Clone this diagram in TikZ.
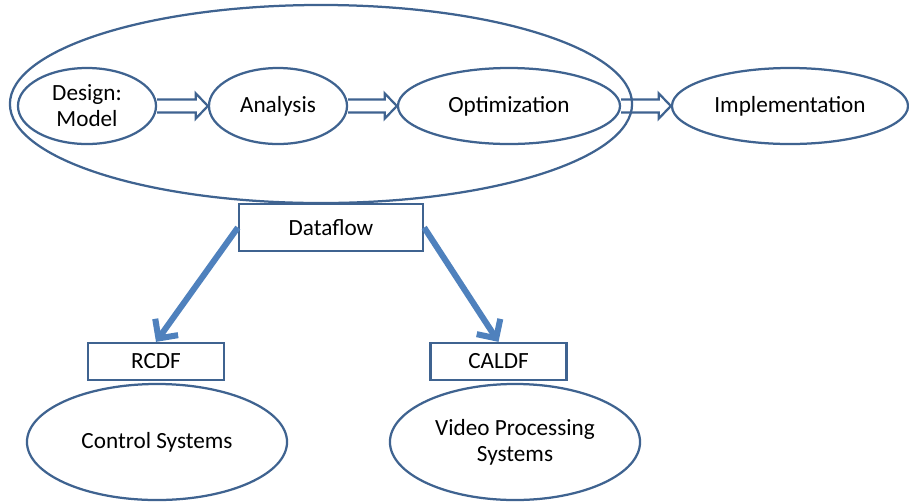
\documentclass[tikz,border=0pt]{standalone}
\usepackage{fontspec}
\setmainfont{Carlito}
\usetikzlibrary{shapes.geometric,arrows.meta,calc}

\definecolor{outl}{HTML}{3F6390}
\definecolor{arrowblue}{HTML}{4F81BD}

\newcommand{\blockarrow}[2]{%
  \draw [outl,line width=1.6pt,line join=miter] ($(#1.east)+(0,-6.5)$) -- ($(#2.west)+(-12,-6.5)$)
    -- ($(#2.west)+(-12,-12.5)$) -- (#2.west) -- ($(#2.west)+(-12,12.5)$)
    -- ($(#2.west)+(-12,6.5)$) -- ($(#1.east)+(0,6.5)$);}

\begin{document}
\begin{tikzpicture}[x=0.025cm,y=-0.025cm]
  \tikzstyle{every node}+=[inner sep=0pt,font=\fontsize{16.5}{18.5}\selectfont,align=center]
  \tikzstyle{oval}=[ellipse,draw=outl,line width=1.6pt]
  \tikzstyle{tag}=[rectangle,draw=outl,line width=1.6pt]
  \tikzstyle{fat}=[draw=arrowblue,line width=4.3pt,-{Straight Barb[length=10pt,width=20pt,line width=4.3pt]}]
  \useasboundingbox (0,0) rectangle (909,502);
  \node [oval,minimum width=15.55cm,minimum height=4.95cm] (region) at (321,104) {};
  \node [oval,minimum width=3.45cm,minimum height=1.9cm] (design) at (87,106) {Design:\\Model};
  \node [oval,minimum width=3.45cm,minimum height=1.9cm] (analysis) at (278,106) {Analysis};
  \node [oval,minimum width=5.55cm,minimum height=1.9cm] (optim) at (509,106) {Optimization};
  \node [oval,minimum width=5.9cm,minimum height=1.9cm] (impl) at (790,106) {Implementation};
  \blockarrow{design}{analysis}
  \blockarrow{analysis}{optim}
  \blockarrow{optim}{impl}
  \node [tag,minimum width=4.6cm,minimum height=1.175cm] (dataflow) at (331,227.5) {Dataflow};
  \node [tag,minimum width=3.4cm,minimum height=0.925cm] (rcdf) at (156,361.5) {RCDF};
  \node [tag,minimum width=3.4cm,minimum height=0.925cm] (caldf) at (498.5,361.5) {CALDF};
  \node [oval,minimum width=6.5cm,minimum height=2.9cm] (control) at (157,442) {Control Systems};
  \node [oval,minimum width=6.25cm,minimum height=2.9cm] (video) at (515,442) {Video Processing\\Systems};
  \draw [fat] (dataflow.west) -- (rcdf.north);
  \draw [fat] (dataflow.east) -- (caldf.north);
\end{tikzpicture}
\end{document}
